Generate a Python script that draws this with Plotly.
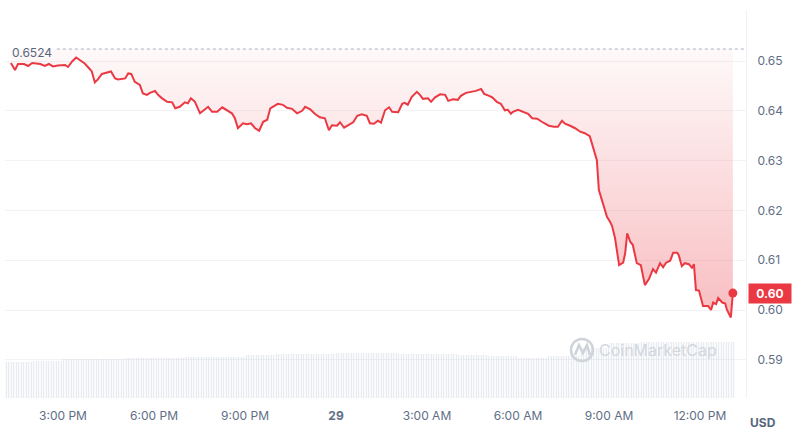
import pandas as pd
import plotly.graph_objects as go

# ---------------- data ----------------
BASE = pd.Timestamp("2024-05-28 13:00")

# minutes after 13:00 on the 28th
price_minutes = [
    17, 25, 31, 43, 51, 59, 75, 84, 92, 100,
    110, 124, 130, 138, 146, 154, 163, 171, 177, 183,
    189, 197, 207, 215, 223, 229, 243, 249, 255, 262,
    272, 278, 286, 292, 302, 308, 316, 326, 336, 342,
    351, 361, 367, 373, 381, 391, 401, 407, 415, 425,
    435, 444, 454, 460, 466, 476, 484, 492, 500, 508,
    516, 524, 530, 535, 545, 555, 563, 573, 583, 593,
    599, 609, 618, 628, 638, 646, 652, 662, 668, 676,
    684, 694, 702, 711, 721, 727, 735, 743, 749, 757,
    765, 771, 783, 791, 796, 802, 810, 820, 826, 832,
    842, 848, 856, 866, 876, 882, 891, 901, 907, 917,
    927, 937, 947, 953, 963, 969, 978, 986, 994, 1000,
    1006, 1010, 1020, 1030, 1040, 1048, 1058, 1067, 1073, 1081,
    1091, 1099, 1107, 1113, 1123, 1133, 1143, 1152, 1162, 1168,
    1176, 1180, 1186, 1196, 1202, 1206, 1212, 1220, 1228, 1232,
    1236, 1242, 1247, 1255, 1263, 1271, 1279, 1287, 1293, 1301,
    1307, 1313, 1321, 1327, 1335, 1338, 1344, 1350, 1358, 1364,
    1368, 1372, 1378, 1386, 1396, 1402, 1406, 1412, 1416, 1424,
    1430, 1433, 1441, 1445,
]

prices = [
    0.6496, 0.6482, 0.6494, 0.6494, 0.6490, 0.6496, 0.6494, 0.6490, 0.6494, 0.6489,
    0.6491, 0.6492, 0.6488, 0.6499, 0.6507, 0.6502, 0.6495, 0.6486, 0.6479, 0.6457,
    0.6463, 0.6474, 0.6477, 0.6479, 0.6465, 0.6463, 0.6465, 0.6475, 0.6474, 0.6458,
    0.6452, 0.6435, 0.6432, 0.6436, 0.6440, 0.6432, 0.6425, 0.6418, 0.6417, 0.6405,
    0.6408, 0.6417, 0.6415, 0.6425, 0.6418, 0.6395, 0.6403, 0.6408, 0.6398, 0.6398,
    0.6407, 0.6402, 0.6395, 0.6385, 0.6365, 0.6375, 0.6373, 0.6375, 0.6365, 0.6360,
    0.6378, 0.6382, 0.6405, 0.6408, 0.6414, 0.6412, 0.6406, 0.6404, 0.6395, 0.6400,
    0.6408, 0.6403, 0.6394, 0.6387, 0.6385, 0.6361, 0.6371, 0.6370, 0.6377, 0.6366,
    0.6371, 0.6377, 0.6390, 0.6393, 0.6390, 0.6375, 0.6374, 0.6380, 0.6376, 0.6401,
    0.6407, 0.6398, 0.6397, 0.6414, 0.6416, 0.6412, 0.6428, 0.6438, 0.6432, 0.6424,
    0.6425, 0.6418, 0.6427, 0.6433, 0.6432, 0.6420, 0.6423, 0.6422, 0.6430, 0.6436,
    0.6438, 0.6440, 0.6444, 0.6434, 0.6430, 0.6427, 0.6418, 0.6414, 0.6401, 0.6402,
    0.6394, 0.6398, 0.6402, 0.6398, 0.6394, 0.6385, 0.6384, 0.6378, 0.6374, 0.6370,
    0.6368, 0.6368, 0.6380, 0.6374, 0.6370, 0.6365, 0.6358, 0.6355, 0.6349, 0.6328,
    0.6301, 0.6241, 0.6221, 0.6187, 0.6177, 0.6169, 0.6144, 0.6090, 0.6095, 0.6114,
    0.6154, 0.6137, 0.6131, 0.6094, 0.6090, 0.6050, 0.6062, 0.6082, 0.6075, 0.6094,
    0.6086, 0.6095, 0.6099, 0.6115, 0.6115, 0.6110, 0.6088, 0.6094, 0.6092, 0.6085,
    0.6092, 0.6040, 0.6039, 0.6008, 0.6008, 0.6000, 0.6015, 0.6012, 0.6024, 0.6015,
    0.6013, 0.6001, 0.5985, 0.6034,
]

open_price = 0.6524
open_label = "0.6524"
current_label = "0.60"

# hourly volume (millions USD), hours after 13:00 on the 28th
volume_hours = list(range(25))
volumes = [357, 375, 387, 395, 403, 405, 407, 410, 430, 440, 443, 447, 447,
           445, 440, 430, 420, 405, 420, 500, 555, 560, 560, 563, 563]

tick_times = ["2024-05-28 15:00", "2024-05-28 18:00", "2024-05-28 21:00",
              "2024-05-29 00:00", "2024-05-29 03:00", "2024-05-29 06:00",
              "2024-05-29 09:00", "2024-05-29 12:00"]
tick_text = ["3:00 PM", "6:00 PM", "9:00 PM", "<b>29</b>", "3:00 AM",
             "6:00 AM", "9:00 AM", "12:00 PM"]
price_ticks = [0.59, 0.60, 0.61, 0.62, 0.63, 0.64, 0.65]

# ---------------- build ----------------
RED = "#ea3943"
GREY = "#616e85"

times = [BASE + pd.Timedelta(minutes=m) for m in price_minutes]
vol_x = [BASE + pd.Timedelta(hours=h) for h in volume_hours]
vol_w = [3600000] * (len(volume_hours) - 1) + [600000]

fig = go.Figure()

# baseline (open price) for the fill
fig.add_trace(go.Scatter(x=times, y=[open_price] * len(times), mode="lines",
                         line=dict(width=0, color="rgba(0,0,0,0)"),
                         hoverinfo="skip", showlegend=False, yaxis="y"))
# price line with gradient fill up to baseline
fig.add_trace(go.Scatter(
    x=times, y=prices, mode="lines",
    line=dict(color=RED, width=2),
    fill="tonexty",
    fillgradient=dict(type="vertical",
                      colorscale=[[0, "rgba(234,57,67,0.33)"],
                                  [1, "rgba(234,57,67,0.03)"]],
                      start=min(prices), stop=open_price),
    showlegend=False, yaxis="y"))
# last point marker
fig.add_trace(go.Scatter(x=[times[-1]], y=[prices[-1]], mode="markers",
                         marker=dict(color=RED, size=9),
                         showlegend=False, yaxis="y"))
# volume bars
fig.add_trace(go.Bar(
    x=vol_x, y=volumes, width=vol_w, offset=0, yaxis="y2",
    marker=dict(color="rgba(0,0,0,0)", line=dict(width=0),
                pattern=dict(shape="|", size=2.5, solidity=0.4,
                             fgcolor="#c2c9d6", fillmode="overlay")),
    showlegend=False))

fig.update_layout(
    width=800, height=438,
    margin=dict(l=5, r=54, t=10, b=40),
    paper_bgcolor="white", plot_bgcolor="white",
    font=dict(family="Inter", size=12, color=GREY),
    bargap=0,
    xaxis=dict(type="date",
               range=["2024-05-28 13:05:17", "2024-05-29 13:31:00"],
               tickvals=tick_times, ticktext=tick_text,
               showgrid=False, zeroline=False, showline=False,
               ticks="outside", ticklen=7, tickcolor="rgba(0,0,0,0)",
               tickfont=dict(size=12, color=GREY)),
    yaxis=dict(side="right", range=[0.58233, 0.66024],
               tickvals=price_ticks, tickformat=".2f",
               showgrid=True, gridcolor="#f2f3f6", gridwidth=1,
               zeroline=False, showline=True, linecolor="#eff1f4",
               ticks="outside", ticklen=8, tickcolor="rgba(0,0,0,0)",
               tickfont=dict(size=12, color=GREY)),
    yaxis2=dict(overlaying="y", range=[0, 3880], visible=False),
    shapes=[
        dict(type="line", xref="paper", yref="y", x0=0.07, x1=1.0,
             y0=open_price, y1=open_price,
             line=dict(color="#a6b0c3", width=1, dash="dot")),
        # watermark logo circle
        dict(type="circle", xref="paper", yref="paper",
             x0=0.7638, x1=0.7935, y0=0.0954, y1=0.152,
             line=dict(color="#cfd3da", width=2.5)),
        dict(type="path", xref="paper", yref="paper",
             path="M 0.7692 0.1108 L 0.7746 0.1366 L 0.7800 0.1160 "
                  "L 0.7854 0.1366 L 0.7895 0.1108",
             line=dict(color="#cfd3da", width=2.5)),
    ],
    annotations=[
        dict(text=open_label, xref="paper", yref="y", x=0.0067, y=open_price,
             xanchor="left", yanchor="middle", yshift=-3, showarrow=False,
             font=dict(size=12, color="#58667e")),
        dict(text="<b>" + current_label + "</b>", xref="paper", yref="y",
             x=1.0, y=prices[-1], xanchor="left", yanchor="middle", xshift=2,
             showarrow=False, bgcolor=RED, width=38, height=15, borderpad=2,
             font=dict(size=12, color="white")),
        dict(text="<b>USD</b>", xref="paper", yref="paper", x=1.0027, y=-0.062,
             xanchor="left", yanchor="middle", showarrow=False,
             font=dict(size=12, color="#58667e")),
        dict(text="CoinMarketCap", xref="paper", yref="paper", x=0.881, y=0.1237,
             xanchor="center", yanchor="middle", showarrow=False,
             font=dict(size=16, color="#d3d7de", family="Inter")),
    ],
)

fig.write_html("out.html",
               config={"displayModeBar": False},
               post_script="document.body.style.margin='0';"
                           "document.body.style.padding='0';")
